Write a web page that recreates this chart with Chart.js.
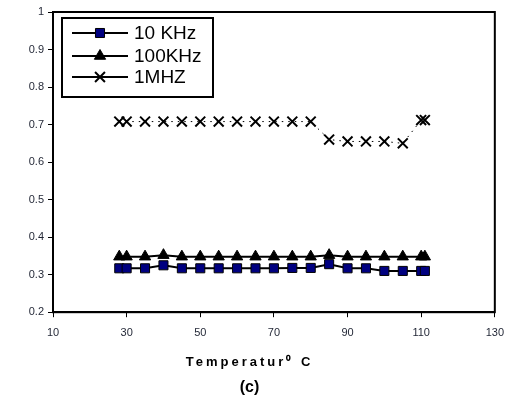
<!DOCTYPE html>
<html>
<head>
<meta charset="utf-8">
<script src="https://cdn.jsdelivr.net/npm/chart.js"></script>
<style>
  body { margin: 0; background: #fff; }
  #wrap { width: 513px; height: 399px; }
</style>
</head>
<body>
<div id="wrap"><canvas id="tempChart"></canvas></div>
<script>
// temperature (deg C) and loss values
const temps = [28, 30, 35, 40, 45, 50, 55, 60, 65, 70, 75, 80, 85, 90, 95, 100, 105, 110, 111];
const khz10 = [0.317, 0.317, 0.317, 0.325, 0.317, 0.317, 0.317, 0.317, 0.317, 0.317, 0.318, 0.318, 0.328, 0.317, 0.317, 0.31, 0.31, 0.31, 0.31];
const khz100 = [0.348, 0.348, 0.348, 0.352, 0.348, 0.348, 0.348, 0.348, 0.348, 0.348, 0.348, 0.348, 0.352, 0.348, 0.348, 0.348, 0.348, 0.348, 0.348];
const mhz1 = [0.708, 0.708, 0.708, 0.708, 0.708, 0.708, 0.708, 0.708, 0.708, 0.708, 0.708, 0.708, 0.66, 0.655, 0.655, 0.655, 0.65, 0.712, 0.712];
const seriesNames = ["10 KHz", "100KHz", "1MHZ"];
const xTitle = "Temperatur\u2070 C";
const panelLabel = "(c)";

Chart.defaults.font.family = "Arial, 'Liberation Sans', sans-serif";
Chart.defaults.color = "#1f2433";

const pts = (ys) => temps.map((t, i) => ({ x: t, y: ys[i] }));

// plot frame (top + right sides too)
const frame = {
  id: "frame",
  afterDraw(chart) {
    const { ctx, chartArea: a } = chart;
    ctx.save();
    ctx.strokeStyle = "#000";
    ctx.lineWidth = 2;
    ctx.strokeRect(a.left, a.top, a.right - a.left, a.bottom - a.top);
    ctx.restore();
  }
};

// boxed legend inside the plot, line-marker-line like the original
const boxLegend = {
  id: "boxLegend",
  afterDraw(chart) {
    const ctx = chart.ctx;
    const bx = 62, by = 18, bw = 151, bh = 79;
    ctx.save();
    ctx.fillStyle = "#fff";
    ctx.fillRect(bx, by, bw, bh);
    ctx.strokeStyle = "#000";
    ctx.lineWidth = 2;
    ctx.strokeRect(bx, by, bw, bh);
    const rows = [33, 56, 77];
    chart.data.datasets.forEach((ds, i) => {
      const y = rows[i];
      ctx.strokeStyle = "#000";
      ctx.lineWidth = 2;
      ctx.beginPath();
      ctx.moveTo(72, y);
      ctx.lineTo(128, y);
      ctx.stroke();
      ctx.fillStyle = ds.pointBackgroundColor;
      ctx.strokeStyle = ds.pointBorderColor;
      ctx.lineWidth = ds.pointBorderWidth;
      Chart.helpers.drawPoint(ctx, { pointStyle: ds.pointStyle, radius: ds.pointRadius, rotation: 0, borderWidth: ds.pointBorderWidth }, 100, y);
      ctx.fillStyle = "#000";
      ctx.font = "19px Arial, 'Liberation Sans', sans-serif";
      ctx.textBaseline = "middle";
      ctx.textAlign = "left";
      ctx.fillText(ds.label, 134, y + 1);
    });
    ctx.restore();
  }
};

// letter-spaced axis caption
const spacedTitle = {
  id: "spacedTitle",
  afterLayout(chart) {
    chart.boxes.forEach(b => {
      if (b.options && b.options.text === xTitle && !b._spaced) {
        const draw = b.draw.bind(b);
        b.draw = (area) => {
          chart.ctx.save();
          chart.ctx.letterSpacing = "3px";
          draw(area);
          chart.ctx.restore();
        };
        b._spaced = true;
      }
    });
  }
};

new Chart(document.getElementById("tempChart"), {
  type: "line",
  data: {
    datasets: [
      {
        label: seriesNames[0],
        data: pts(khz10),
        borderColor: "#000",
        borderWidth: 2,
        pointStyle: "rect",
        pointRadius: 6.4,
        pointBackgroundColor: "#000080",
        pointBorderColor: "#000",
        pointBorderWidth: 1,
        tension: 0
      },
      {
        label: seriesNames[1],
        data: pts(khz100),
        borderColor: "#000",
        borderWidth: 2,
        pointStyle: "triangle",
        pointRadius: 6.5,
        pointBackgroundColor: "#000",
        pointBorderColor: "#000",
        pointBorderWidth: 1,
        tension: 0
      },
      {
        label: seriesNames[2],
        data: pts(mhz1),
        borderColor: "#000",
        borderWidth: 1,
        borderDash: [1.5, 5],
        pointStyle: "crossRot",
        pointRadius: 7,
        pointBackgroundColor: "#000",
        pointBorderColor: "#000",
        pointBorderWidth: 2,
        tension: 0
      }
    ]
  },
  options: {
    responsive: true,
    maintainAspectRatio: false,
    animation: false,
    layout: { padding: { top: 12, right: 14, left: 0, bottom: 0 } },
    plugins: {
      legend: { display: false },
      tooltip: { enabled: false },
      subtitle: {
        display: true,
        position: "bottom",
        text: xTitle,
        color: "#000",
        font: { size: 13, weight: "bold" },
        padding: { top: 0, bottom: 8 }
      },
      title: {
        display: true,
        position: "bottom",
        text: panelLabel,
        color: "#000",
        font: { size: 16, weight: "bold" },
        padding: { top: 0, bottom: 2 }
      }
    },
    scales: {
      x: {
        type: "linear",
        min: 10,
        max: 130,
        ticks: { stepSize: 20, padding: 9, font: { size: 11 }, maxRotation: 0 },
        grid: { drawOnChartArea: false, drawTicks: true, tickLength: 5, color: "#000" },
        border: { display: true, color: "#000", width: 2 },
        afterFit(scale) { scale.height = 42; }
      },
      y: {
        min: 0.2,
        max: 1,
        ticks: { stepSize: 0.1, padding: 4, font: { size: 11 }, callback: (v) => Math.round(v * 10) / 10 },
        grid: { drawOnChartArea: false, drawTicks: true, tickLength: 5, color: "#000" },
        border: { display: true, color: "#000", width: 2 },
        afterFit(scale) { scale.width = 53; }
      }
    }
  },
  plugins: [frame, boxLegend, spacedTitle]
});
</script>
</body>
</html>
